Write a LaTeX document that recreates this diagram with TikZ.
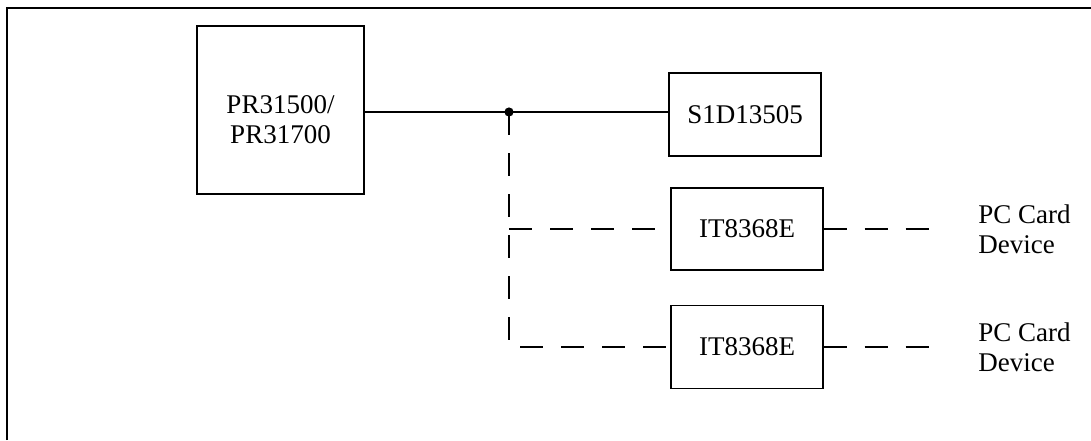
\documentclass[tikz,border=0pt]{standalone}
\usepackage{fontspec}
\setmainfont{Liberation Serif}
\tikzset{
  chip/.style={draw, line width=0.6pt, inner sep=0pt, align=center,
    font=\fontsize{13.5}{15}\selectfont},
  card/.style={inner sep=0pt, anchor=west, align=left,
    font=\fontsize{13.5}{15}\selectfont},
  bus/.style={line width=0.6pt},
  slot/.style={line width=0.6pt, dash pattern=on 11.5pt off 9pt},
}
\begin{document}
\begin{tikzpicture}[x=0.5pt,y=-0.5pt]
    \useasboundingbox (0,0) rectangle (1091,440);
    % frame
    \draw[bus] (7,440) -- (7,8) -- (1091,8);
    % chips
    \node[chip, minimum width=83.5pt, minimum height=84pt] (cpu) at (280.5,110)
        {\raisebox{-6pt}[\height][\depth]{\begin{tabular}{@{}c@{}}PR31500/\\PR31700\end{tabular}}};
    \node[chip, minimum width=76pt, minimum height=41.5pt] (lcd) at (745,114.5) {S1D13505};
    \node[chip, minimum width=76pt, minimum height=41pt] (pcc1) at (747,229) {IT8368E};
    \node[chip, minimum width=76pt, minimum height=41.5pt] (pcc2) at (747,347) {IT8368E};
    \node[card] (card1) at (978,229) {PC Card\\Device};
    \node[card] (card2) at (978,347) {PC Card\\Device};
    % bus
    \coordinate (tap) at (509,112);
    \draw[bus] (cpu.east |- tap) -- (tap) -- (lcd.west |- tap);
    \fill (tap) circle (2.3pt);
    % card slots
    \draw[slot] (tap) -- (tap |- pcc2.west) -- (pcc2.west);
    \draw[slot] (tap |- pcc1.west) -- (pcc1.west);
    \draw[slot, shorten >=16.5pt] (pcc1.east) -- (card1.west);
    \draw[slot, shorten >=16.5pt] (pcc2.east) -- (card2.west);
\end{tikzpicture}
\end{document}
